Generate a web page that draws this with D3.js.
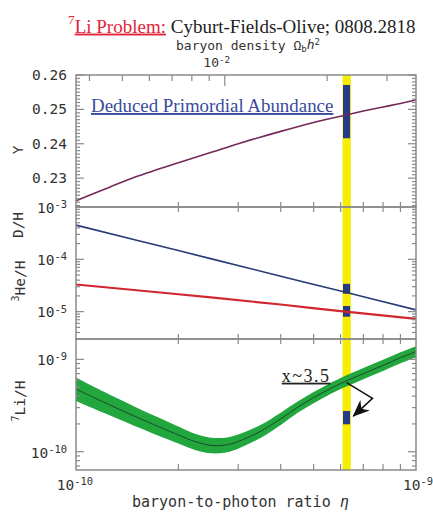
<!DOCTYPE html>
<html>
<head>
<meta charset="utf-8">
<script src="https://cdn.jsdelivr.net/npm/d3@7"></script>
<style>
  body { margin: 0; background: #fff; }
  text { font-family: "DejaVu Sans Mono", monospace; fill: #333; }
  .serif { font-family: "Liberation Serif", "Times New Roman", serif; }
</style>
</head>
<body>
<div id="chart"></div>
<script>
// eta in units of 1e-10, Li/H in units of 1e-10
var yEta = [1, 1.25, 1.5, 2, 2.5, 3, 4, 5, 6, 7, 8, 9, 10];
var yHe4 = [0.2234, 0.2273, 0.2304, 0.2345, 0.2375, 0.2400, 0.2436, 0.2462, 0.2480, 0.2495, 0.2507, 0.2517, 0.2527];

var dEta = [1, 2, 4, 6, 10];
var dH = [4.5e-4, 1.47e-4, 4.76e-5, 2.47e-5, 1.08e-5];
var he3H = [3.3e-5, 2.15e-5, 1.37e-5, 1.02e-5, 7.3e-6];

var liEta = [1, 1.2, 1.5, 2, 2.25, 2.5, 2.75, 3, 3.5, 4, 4.5, 5, 5.5, 6, 7, 8, 9, 10];
var liMid = [4.77, 3.47, 2.39, 1.52, 1.28, 1.17, 1.18, 1.29, 1.67, 2.27, 3.05, 3.85, 4.66, 5.47, 7.0, 8.6, 10.4, 12.1];
var liLo  = [3.55, 2.66, 1.88, 1.23, 1.04, 0.96, 0.98, 1.08, 1.42, 1.95, 2.65, 3.35, 4.06, 4.76, 6.10, 7.49, 9.06, 10.54];
var liHi  = [6.35, 4.50, 3.03, 1.88, 1.56, 1.42, 1.42, 1.54, 1.96, 2.64, 3.51, 4.42, 5.35, 6.28, 8.04, 9.87, 11.94, 13.89];

var wmapBand = [6.08, 6.43];
var obsEta = [6.1, 6.4];
var obsY = [0.2416, 0.2571];
var obsD = [2.2e-5, 3.4e-5];
var obsHe3 = [8.0e-6, 1.28e-5];
var obsLi = [1.98, 2.76];

// annotation: arrow from prediction to observation, in (eta, Li/H)
var arrowPts = [[6.25, 5.6], [7.45, 3.78], [6.54, 2.43]];
var factorLabel = { eta: 4.03, li: 5.73, text: "x~3.5" };

var etaTicks = [2, 3, 4, 5, 6, 7, 8, 9];
var omegaMinor = [0.004, 0.005, 0.006, 0.007, 0.008, 0.009, 0.02, 0.03];
var omegaMajor = [0.01];
var yMajor = [0.23, 0.24, 0.25, 0.26];

var width = 433, height = 512;
var left = 76, right = 416;
var p1 = [75, 207], p2 = [207, 339], p3 = [339, 470];

var svg = d3.select("#chart").append("svg")
    .attr("width", width)
    .attr("height", height);

var x = d3.scaleLog().domain([1, 10]).range([left, right]);
var yY = d3.scaleLinear().domain([0.2216, 0.26]).range([p1[1], p1[0]]);
var yDH = d3.scaleLog().domain([3.0e-6, 1e-3]).range([p2[1], p2[0]]);
var yLi = d3.scaleLog().domain([0.634, 16.6]).range([p3[1], p3[0]]);

var frameColor = "#8a8a8a";
var smooth = d3.curveCatmullRom.alpha(0.5);

function tickLines(vals, size, orient, pos, scale) {
    vals.forEach(function (v) {
        var line = svg.append("line")
            .attr("stroke", frameColor)
            .attr("stroke-width", 1.2);
        if (orient === "top" || orient === "bottom") {
            var dir = orient === "top" ? 1 : -1;
            line.attr("x1", scale(v)).attr("x2", scale(v))
                .attr("y1", pos).attr("y2", pos + dir * size);
        } else {
            var dir2 = orient === "left" ? 1 : -1;
            line.attr("y1", scale(v)).attr("y2", scale(v))
                .attr("x1", pos).attr("x2", pos + dir2 * size);
        }
    });
}

function logMinors(lo, hi) {
    var out = [];
    for (var e = Math.floor(Math.log10(lo)); e <= Math.ceil(Math.log10(hi)); e++) {
        for (var m = 2; m <= 9; m++) {
            var v = m * Math.pow(10, e);
            if (v > lo && v < hi) out.push(v);
        }
    }
    return out;
}

function pow10Label(sel, exp) {
    sel.append("tspan").text("10");
    sel.append("tspan").attr("dy", "-0.45em").attr("font-size", "0.72em").text("-" + exp);
}

// yellow WMAP band
svg.append("rect")
    .attr("x", x(wmapBand[0]))
    .attr("width", x(wmapBand[1]) - x(wmapBand[0]))
    .attr("y", p1[0])
    .attr("height", p3[1] - p1[0])
    .attr("fill", "#f6ee00");

// observed abundances
function obsBox(scale, range) {
    svg.append("rect")
        .attr("x", x(obsEta[0]))
        .attr("width", x(obsEta[1]) - x(obsEta[0]))
        .attr("y", scale(range[1]))
        .attr("height", scale(range[0]) - scale(range[1]))
        .attr("fill", "#263a86");
}
obsBox(yY, obsY);
obsBox(yDH, obsD);
obsBox(yDH, obsHe3);
obsBox(yLi, obsLi);

// Y panel
var lineY = d3.line()
    .curve(smooth)
    .x(function (d, i) { return x(yEta[i]); })
    .y(function (d) { return yY(d); });

svg.append("path")
    .datum(yHe4)
    .attr("fill", "none")
    .attr("stroke", "#74295a")
    .attr("stroke-width", 1.6)
    .attr("d", lineY);

// D/H and He3/H panel
var lineD = d3.line()
    .curve(smooth)
    .x(function (d, i) { return x(dEta[i]); })
    .y(function (d) { return yDH(d); });

svg.append("path")
    .datum(he3H)
    .attr("fill", "none")
    .attr("stroke", "#d0262f")
    .attr("stroke-width", 2.2)
    .attr("d", lineD);

svg.append("path")
    .datum(dH)
    .attr("fill", "none")
    .attr("stroke", "#2a3878")
    .attr("stroke-width", 1.6)
    .attr("d", lineD);

// Li panel
var areaLi = d3.area()
    .curve(smooth)
    .x(function (d, i) { return x(liEta[i]); })
    .y0(function (d, i) { return yLi(liLo[i]); })
    .y1(function (d, i) { return yLi(liHi[i]); });

var lineLi = d3.line()
    .curve(smooth)
    .x(function (d, i) { return x(liEta[i]); })
    .y(function (d) { return yLi(d); });

svg.append("path")
    .datum(liMid)
    .attr("fill", "#22a63e")
    .attr("d", areaLi);

svg.append("path")
    .datum(liMid)
    .attr("fill", "none")
    .attr("stroke", "#1d4a2c")
    .attr("stroke-width", 1)
    .attr("d", lineLi);

// arrow
svg.append("defs").append("marker")
    .attr("id", "head")
    .attr("markerUnits", "userSpaceOnUse")
    .attr("markerWidth", 18)
    .attr("markerHeight", 14)
    .attr("refX", 16)
    .attr("refY", 7)
    .attr("orient", "auto")
    .append("path")
    .attr("d", "M0,0 L17,7 L0,14 L5,7 Z")
    .attr("fill", "#111");

svg.append("path")
    .datum(arrowPts)
    .attr("fill", "none")
    .attr("stroke", "#111")
    .attr("stroke-width", 1.5)
    .attr("marker-end", "url(#head)")
    .attr("d", d3.line()
        .x(function (d) { return x(d[0]); })
        .y(function (d) { return yLi(d[1]); }));

svg.append("text")
    .attr("class", "serif")
    .attr("x", x(factorLabel.eta))
    .attr("y", yLi(factorLabel.li))
    .attr("font-size", 18)
    .attr("letter-spacing", 1.5)
    .style("fill", "#222")
    .style("text-decoration", "underline")
    .text(factorLabel.text);

// frames
[p1, p2, p3].forEach(function (p) {
    svg.append("rect")
        .attr("x", left).attr("y", p[0])
        .attr("width", right - left).attr("height", p[1] - p[0])
        .attr("fill", "none")
        .attr("stroke", frameColor)
        .attr("stroke-width", 1.5);
});

// ticks: top axis in Omega_b h^2 (eta10 = 273.9 Omega_b h^2)
var om = function (v) { return x(273.9 * v); };
tickLines(omegaMinor, 6, "top", p1[0], om);
tickLines(omegaMajor, 11, "top", p1[0], om);

// eta ticks on panel edges
tickLines(etaTicks, 5, "bottom", p1[1], x);
tickLines(etaTicks, 5, "top", p2[0], x);
tickLines(etaTicks, 5, "bottom", p2[1], x);
tickLines(etaTicks, 5, "top", p3[0], x);
tickLines(etaTicks, 6, "bottom", p3[1], x);

// Y ticks
var yMinor = d3.range(222, 260).map(function (v) { return v / 1000; })
    .filter(function (v) { return yMajor.indexOf(v) < 0; });
tickLines(yMinor, 4, "left", left, yY);
tickLines(yMinor, 4, "right", right, yY);
tickLines(yMajor, 8, "left", left, yY);
tickLines(yMajor, 8, "right", right, yY);

// log ticks
[[yDH, [1e-4, 1e-5]], [yLi, [1, 10]]].forEach(function (a) {
    var dom = a[0].domain();
    var minors = logMinors(dom[0], dom[1]);
    tickLines(minors, 4, "left", left, a[0]);
    tickLines(minors, 4, "right", right, a[0]);
    tickLines(a[1], 8, "left", left, a[0]);
    tickLines(a[1], 8, "right", right, a[0]);
});

// tick labels
var lab = svg.append("g").attr("font-size", 14.5).attr("text-anchor", "end");
yMajor.forEach(function (v) {
    lab.append("text").attr("x", 67).attr("y", yY(v)).attr("dy", "0.35em").text(v.toFixed(2));
});
[[yDH, 1e-3, 3], [yDH, 1e-4, 4], [yDH, 1e-5, 5], [yLi, 10, 9], [yLi, 1, 10]].forEach(function (a) {
    var t = lab.append("text").attr("x", 67).attr("y", a[0](a[1])).attr("dy", "0.4em");
    pow10Label(t, a[2]);
});

var xl = svg.append("g").attr("font-size", 14.5).attr("text-anchor", "middle");
pow10Label(xl.append("text").attr("x", x(1) - 1).attr("y", 490), 10);
pow10Label(xl.append("text").attr("x", x(10) + 2).attr("y", 490), 9);

// top axis label
var top2 = svg.append("text").attr("x", om(0.01) - 8).attr("y", 67)
    .attr("font-size", 13).attr("text-anchor", "middle");
pow10Label(top2, 2);

var topLab = svg.append("text").attr("x", 248).attr("y", 50)
    .attr("font-size", 13).attr("text-anchor", "middle");
topLab.append("tspan").text("baryon density \u03a9");
topLab.append("tspan").attr("dy", "0.25em").attr("font-size", "0.7em").text("b");
topLab.append("tspan").attr("dy", "-0.25em").style("font-style", "italic").text("h");
topLab.append("tspan").attr("dy", "-0.45em").attr("font-size", "0.7em").text("2");

// bottom axis label
var botLab = svg.append("text").attr("x", 132).attr("y", 507).attr("font-size", 15);
botLab.append("tspan").text("baryon-to-photon ratio  ");
botLab.append("tspan").style("font-style", "italic").text("\u03b7");

// y titles
function yTitle(yc, parts) {
    var t = svg.append("text")
        .attr("transform", "translate(23," + yc + ") rotate(-90)")
        .attr("font-size", 14.5)
        .attr("text-anchor", "middle");
    parts.forEach(function (p) {
        if (p.sup) {
            t.append("tspan").attr("dy", "-0.4em").attr("font-size", "0.7em").text(p.sup);
        } else {
            t.append("tspan").attr("dy", p.after ? "0.4em" : 0).text(p.t);
        }
    });
}
yTitle(150, [{ t: "Y" }]);
yTitle(225, [{ t: "D/H" }]);
yTitle(281, [{ sup: "3" }, { t: "He/H", after: true }]);
yTitle(401, [{ sup: "7" }, { t: "Li/H", after: true }]);

// title
var title = svg.append("text").attr("class", "serif").attr("x", 68).attr("y", 30).attr("font-size", 19);
title.append("tspan").attr("dy", "-0.45em").attr("font-size", "0.7em").style("fill", "#e3263b").text("7");
title.append("tspan").attr("dy", "0.45em").style("fill", "#e3263b").style("text-decoration", "underline").text("Li Problem:");
title.append("tspan").style("fill", "#222").text(" Cyburt-Fields-Olive; 0808.2818");

svg.append("text")
    .attr("class", "serif")
    .attr("x", 91).attr("y", 112)
    .attr("font-size", 18.9)
    .style("fill", "#3a4b9c")
    .style("text-decoration", "underline")
    .text("Deduced Primordial Abundance");
</script>
</body>
</html>
